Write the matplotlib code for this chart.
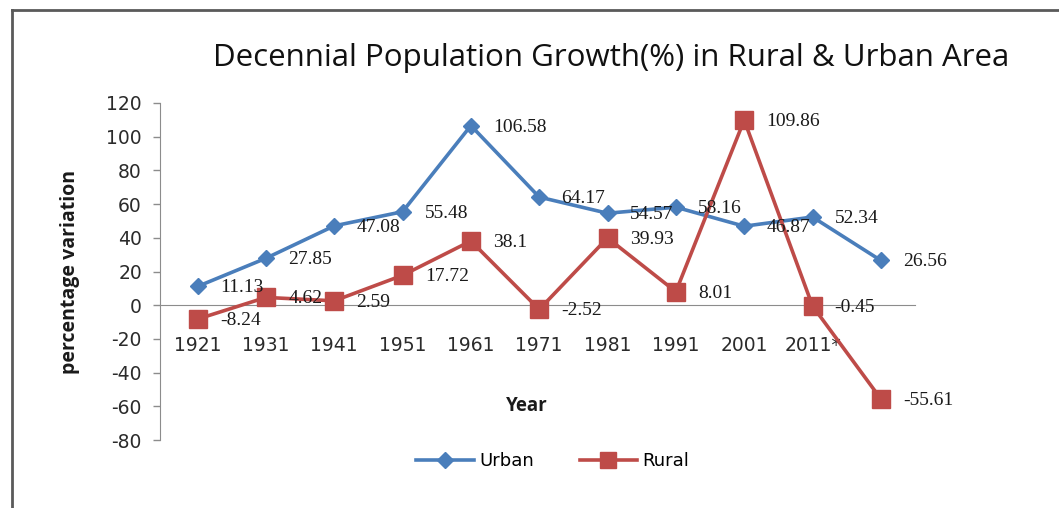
import matplotlib
matplotlib.use("Agg")
import matplotlib.pyplot as plt
from matplotlib.lines import Line2D

plt.rcParams["axes.unicode_minus"] = False

years = ["1921", "1931", "1941", "1951", "1961", "1971", "1981", "1991", "2001", "2011*", ""]
urban = [11.13, 27.85, 47.08, 55.48, 106.58, 64.17, 54.57, 58.16, 46.87, 52.34, 26.56]
rural = [-8.24, 4.62, 2.59, 17.72, 38.1, -2.52, 39.93, 8.01, 109.86, -0.45, -55.61]

W, H = 1059, 508
fig = plt.figure(figsize=(W / 100, H / 100), dpi=100)
fig.patch.set_facecolor("white")

ax = fig.add_axes([160 / W, 1 - 440 / H, 755 / W, 337 / H])
x = list(range(len(years)))

blue = "#4A7EBB"
red = "#BE4B48"
ax.plot(x, urban, color=blue, lw=2.6, marker="D", markersize=8, label="Urban", zorder=3)
ax.plot(x, rural, color=red, lw=2.6, marker="s", markersize=13, label="Rural", zorder=3)

for xs, vals in ((x, urban), (x, rural)):
    for xi, v in zip(xs, vals):
        ax.annotate(f"{v:g}", (xi, v), xytext=(16, -1), textcoords="offset points",
                    ha="left", va="center", fontsize=14, family="Liberation Serif",
                    color="#1a1a1a", zorder=4)

ax.set_xlim(-0.55, 10.5)
ax.set_ylim(-80, 120)
ax.set_yticks(range(-80, 121, 20))
ax.set_xticks(x)
ax.set_xticklabels(years)

for s in ("top", "right"):
    ax.spines[s].set_visible(False)
ax.spines["bottom"].set_position(("data", 0))
ax.spines["bottom"].set_color("#8c8c8c")
ax.spines["left"].set_color("#8c8c8c")
ax.tick_params(axis="x", length=0, pad=22, labelsize=13.5, labelcolor="#2b2b2b")
ax.tick_params(axis="y", length=5, width=1, color="#8c8c8c", direction="out",
               pad=8, labelsize=13.5, labelcolor="#2b2b2b")

fig.text(70 / W, 1 - 272 / H, "percentage variation", rotation=90, ha="center", va="center",
         fontsize=14, fontweight="bold", family="Open Sans", color="#1a1a1a")
fig.text(527 / W, 1 - 406 / H, "Year", ha="center", va="center",
         fontsize=13.5, fontweight="bold", family="Open Sans", color="#1a1a1a")
fig.text(611 / W, 1 - 58 / H, "Decennial Population Growth(%) in Rural & Urban Area",
         ha="center", va="center", fontsize=22.5, fontweight="medium", family="Open Sans",
         color="#111111")

handles = [Line2D([], [], color=blue, lw=2.6, marker="D", markersize=8),
           Line2D([], [], color=red, lw=2.6, marker="s", markersize=11)]
fig.legend(handles, ["Urban", "Rural"], loc="center", bbox_to_anchor=(553 / W, 1 - 461 / H),
           ncol=2, frameon=False, fontsize=13, handlelength=3.2, handletextpad=0.3,
           columnspacing=2.5)

fig.add_artist(Line2D([12 / W, 12 / W], [0, 1 - 10 / H], transform=fig.transFigure,
                      color="#5a5a5a", lw=2))
fig.add_artist(Line2D([12 / W, 1], [1 - 10 / H, 1 - 10 / H], transform=fig.transFigure,
                      color="#5a5a5a", lw=2))

fig.savefig("out.png", dpi=100)
